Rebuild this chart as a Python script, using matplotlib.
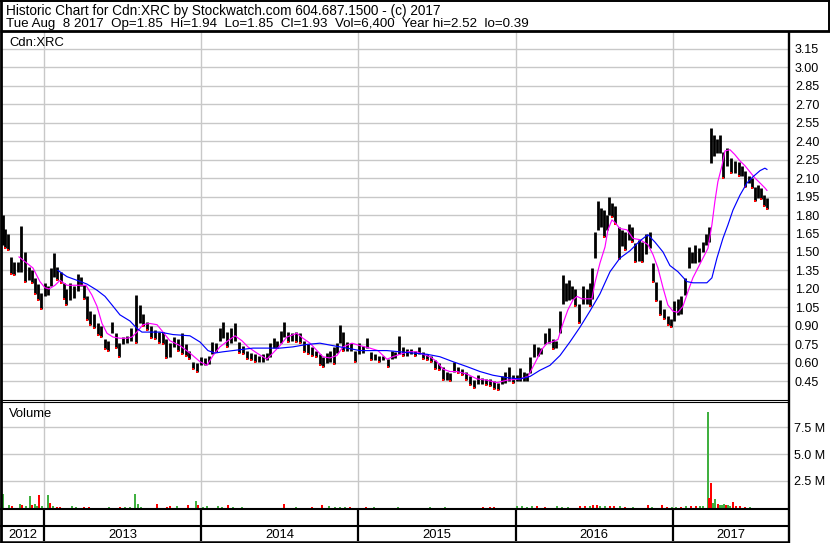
import matplotlib
matplotlib.use("Agg")
import matplotlib.pyplot as plt
from matplotlib.lines import Line2D

plt.rcParams['font.family'] = ['Liberation Sans', 'DejaVu Sans']

# daily-ish bars: decimal year, high, low
bar_t = [2012.739, 2012.752, 2012.771, 2012.790, 2012.809, 2012.834, 2012.854, 2012.879, 2012.904, 2012.924,
         2012.943, 2012.962, 2012.981, 2013.006, 2013.025, 2013.044, 2013.063, 2013.083, 2013.108, 2013.127,
         2013.140, 2013.165, 2013.191, 2013.216, 2013.235, 2013.254, 2013.273, 2013.292, 2013.318, 2013.343,
         2013.362, 2013.388, 2013.407, 2013.432, 2013.458, 2013.477, 2013.502, 2013.528, 2013.553, 2013.585,
         2013.610, 2013.629, 2013.655, 2013.680, 2013.706, 2013.731, 2013.757, 2013.776, 2013.801, 2013.827,
         2013.852, 2013.878, 2013.903, 2013.922, 2013.947, 2013.973, 2013.998, 2014.024, 2014.049, 2014.068,
         2014.094, 2014.119, 2014.138, 2014.164, 2014.189, 2014.215, 2014.240, 2014.265, 2014.291, 2014.316,
         2014.342, 2014.367, 2014.393, 2014.418, 2014.437, 2014.463, 2014.482, 2014.507, 2014.526, 2014.552,
         2014.577, 2014.603, 2014.628, 2014.653, 2014.679, 2014.704, 2014.730, 2014.755, 2014.774, 2014.800,
         2014.819, 2014.844, 2014.863, 2014.882, 2014.902, 2014.927, 2014.952, 2014.978, 2015.003, 2015.029,
         2015.054, 2015.080, 2015.105, 2015.130, 2015.156, 2015.188, 2015.213, 2015.232, 2015.258, 2015.283,
         2015.309, 2015.334, 2015.359, 2015.385, 2015.410, 2015.436, 2015.461, 2015.487, 2015.512, 2015.537,
         2015.563, 2015.582, 2015.607, 2015.633, 2015.658, 2015.684, 2015.709, 2015.735, 2015.760, 2015.786,
         2015.811, 2015.836, 2015.862, 2015.887, 2015.913, 2015.932, 2015.957, 2015.983, 2016.008, 2016.027,
         2016.053, 2016.072, 2016.091, 2016.116, 2016.142, 2016.161, 2016.186, 2016.212, 2016.237, 2016.256,
         2016.282, 2016.301, 2016.320, 2016.339, 2016.358, 2016.377, 2016.402, 2016.428, 2016.453, 2016.472,
         2016.485, 2016.504, 2016.523, 2016.542, 2016.561, 2016.581, 2016.593, 2016.612, 2016.631, 2016.657,
         2016.676, 2016.695, 2016.720, 2016.739, 2016.759, 2016.784, 2016.803, 2016.829, 2016.854, 2016.873,
         2016.892, 2016.918, 2016.943, 2016.968, 2016.987, 2017.007, 2017.032, 2017.051, 2017.077, 2017.102,
         2017.121, 2017.140, 2017.166, 2017.191, 2017.210, 2017.229, 2017.242, 2017.261, 2017.280, 2017.299,
         2017.318, 2017.344, 2017.369, 2017.394, 2017.420, 2017.439, 2017.458, 2017.484, 2017.503, 2017.522,
         2017.541, 2017.560, 2017.579, 2017.598]
bar_hi = [1.80, 1.69, 1.65, 1.46, 1.42, 1.42, 1.71, 1.50, 1.38, 1.35,
          1.29, 1.24, 1.17, 1.25, 1.22, 1.37, 1.49, 1.38, 1.34, 1.25,
          1.20, 1.25, 1.22, 1.32, 1.30, 1.23, 1.14, 1.02, 1.00, 0.92,
          0.90, 0.79, 0.78, 0.93, 0.84, 0.76, 0.81, 0.82, 0.88, 1.15,
          1.07, 1.00, 0.93, 0.90, 0.87, 0.85, 0.85, 0.79, 0.76, 0.81,
          0.79, 0.84, 0.75, 0.70, 0.61, 0.60, 0.65, 0.64, 0.66, 0.77,
          0.76, 0.88, 0.93, 0.85, 0.88, 0.92, 0.77, 0.74, 0.70, 0.68,
          0.67, 0.66, 0.67, 0.68, 0.76, 0.80, 0.78, 0.86, 0.93, 0.85,
          0.84, 0.85, 0.84, 0.78, 0.75, 0.73, 0.70, 0.67, 0.65, 0.68,
          0.70, 0.73, 0.76, 0.91, 0.85, 0.77, 0.76, 0.70, 0.76, 0.74,
          0.80, 0.69, 0.67, 0.66, 0.66, 0.63, 0.70, 0.69, 0.82, 0.73,
          0.71, 0.71, 0.70, 0.73, 0.69, 0.67, 0.66, 0.62, 0.60, 0.57,
          0.53, 0.52, 0.61, 0.57, 0.55, 0.53, 0.49, 0.46, 0.50, 0.48,
          0.47, 0.47, 0.45, 0.44, 0.49, 0.53, 0.57, 0.50, 0.50, 0.56,
          0.53, 0.52, 0.65, 0.75, 0.73, 0.72, 0.84, 0.88, 0.79, 0.78,
          1.02, 1.31, 1.25, 1.27, 1.22, 1.20, 1.08, 1.22, 1.20, 1.25,
          1.37, 1.66, 1.91, 1.86, 1.84, 1.80, 1.95, 1.90, 1.87, 1.70,
          1.68, 1.66, 1.73, 1.70, 1.57, 1.60, 1.58, 1.65, 1.66, 1.41,
          1.26, 1.11, 1.04, 0.98, 0.96, 1.10, 1.12, 1.14, 1.29, 1.54,
          1.50, 1.56, 1.53, 1.58, 1.65, 1.70, 2.51, 2.45, 2.42, 2.45,
          2.31, 2.34, 2.26, 2.24, 2.23, 2.20, 2.16, 2.12, 2.10, 2.03,
          2.04, 2.02, 1.96, 1.94]
bar_lo = [1.56, 1.53, 1.52, 1.32, 1.31, 1.34, 1.34, 1.26, 1.27, 1.25,
          1.16, 1.11, 1.04, 1.14, 1.15, 1.22, 1.30, 1.27, 1.25, 1.12,
          1.07, 1.11, 1.13, 1.18, 1.22, 1.12, 0.95, 0.91, 0.88, 0.83,
          0.81, 0.71, 0.70, 0.84, 0.72, 0.65, 0.75, 0.76, 0.78, 0.76,
          0.92, 0.90, 0.87, 0.80, 0.79, 0.76, 0.75, 0.64, 0.65, 0.73,
          0.70, 0.67, 0.66, 0.63, 0.55, 0.53, 0.58, 0.58, 0.59, 0.67,
          0.69, 0.78, 0.80, 0.73, 0.76, 0.78, 0.68, 0.67, 0.63, 0.62,
          0.61, 0.61, 0.61, 0.62, 0.65, 0.72, 0.72, 0.76, 0.81, 0.77,
          0.78, 0.77, 0.76, 0.69, 0.67, 0.66, 0.65, 0.58, 0.57, 0.60,
          0.61, 0.59, 0.68, 0.76, 0.70, 0.70, 0.70, 0.61, 0.67, 0.68,
          0.72, 0.62, 0.62, 0.61, 0.62, 0.57, 0.63, 0.64, 0.67, 0.66,
          0.66, 0.67, 0.66, 0.67, 0.63, 0.62, 0.61, 0.55, 0.54, 0.46,
          0.46, 0.45, 0.53, 0.52, 0.50, 0.46, 0.42, 0.40, 0.43, 0.43,
          0.42, 0.41, 0.39, 0.38, 0.43, 0.44, 0.45, 0.44, 0.45, 0.45,
          0.45, 0.45, 0.52, 0.65, 0.66, 0.67, 0.75, 0.76, 0.71, 0.72,
          0.84, 1.08, 1.10, 1.11, 1.12, 1.06, 0.92, 1.08, 1.08, 1.06,
          1.12, 1.45, 1.68, 1.70, 1.62, 1.68, 1.80, 1.78, 1.73, 1.44,
          1.55, 1.52, 1.60, 1.58, 1.42, 1.43, 1.42, 1.48, 1.53, 1.26,
          1.10, 0.99, 0.96, 0.91, 0.89, 0.94, 0.99, 1.00, 1.15, 1.37,
          1.41, 1.41, 1.42, 1.50, 1.56, 1.58, 2.22, 2.28, 2.30, 2.30,
          2.10, 2.20, 2.14, 2.14, 2.12, 2.12, 2.03, 2.06, 2.02, 1.91,
          1.94, 1.93, 1.87, 1.85]

# short moving average (magenta)
ma1_t = [2012.841, 2012.930, 2012.974, 2013.006, 2013.032, 2013.070, 2013.102, 2013.146, 2013.229, 2013.267,
         2013.305, 2013.337, 2013.369, 2013.401, 2013.439, 2013.483, 2013.528, 2013.560, 2013.591, 2013.629,
         2013.674, 2013.719, 2013.757, 2013.801, 2013.865, 2013.928, 2013.992, 2014.037, 2014.075, 2014.119,
         2014.170, 2014.215, 2014.259, 2014.297, 2014.354, 2014.418, 2014.456, 2014.501, 2014.545, 2014.609,
         2014.647, 2014.692, 2014.736, 2014.774, 2014.819, 2014.863, 2014.902, 2014.959, 2015.010, 2015.073,
         2015.124, 2015.181, 2015.219, 2015.264, 2015.315, 2015.372, 2015.410, 2015.455, 2015.499, 2015.537,
         2015.582, 2015.627, 2015.690, 2015.754, 2015.817, 2015.881, 2015.945, 2016.027, 2016.078, 2016.123,
         2016.167, 2016.199, 2016.231, 2016.269, 2016.301, 2016.332, 2016.364, 2016.390, 2016.422, 2016.485,
         2016.504, 2016.536, 2016.568, 2016.587, 2016.612, 2016.631, 2016.663, 2016.708, 2016.746, 2016.790,
         2016.841, 2016.873, 2016.905, 2016.937, 2016.968, 2017.000, 2017.032, 2017.064, 2017.096, 2017.127,
         2017.159, 2017.191, 2017.223, 2017.248, 2017.267, 2017.286, 2017.312, 2017.331, 2017.363, 2017.394,
         2017.426, 2017.458, 2017.490, 2017.522, 2017.554, 2017.585, 2017.598]
ma1_v = [1.46, 1.37, 1.26, 1.21, 1.20, 1.23, 1.27, 1.23, 1.23, 1.23,
         1.15, 1.06, 0.92, 0.84, 0.81, 0.80, 0.80, 0.81, 0.85, 0.91,
         0.92, 0.91, 0.85, 0.78, 0.74, 0.68, 0.61, 0.58, 0.66, 0.73,
         0.78, 0.82, 0.78, 0.73, 0.68, 0.63, 0.68, 0.74, 0.81, 0.84,
         0.80, 0.76, 0.70, 0.65, 0.64, 0.66, 0.73, 0.76, 0.74, 0.72,
         0.70, 0.63, 0.65, 0.67, 0.69, 0.69, 0.67, 0.65, 0.61, 0.55,
         0.53, 0.53, 0.51, 0.47, 0.46, 0.44, 0.46, 0.47, 0.49, 0.60,
         0.71, 0.76, 0.77, 0.79, 0.92, 1.03, 1.11, 1.14, 1.12, 1.12,
         1.25, 1.41, 1.54, 1.68, 1.76, 1.74, 1.69, 1.68, 1.61, 1.60,
         1.56, 1.48, 1.37, 1.21, 1.07, 1.02, 1.01, 1.06, 1.18, 1.29,
         1.37, 1.45, 1.53, 1.72, 1.91, 2.07, 2.20, 2.32, 2.33, 2.29,
         2.24, 2.20, 2.15, 2.10, 2.06, 2.02, 2.00]

# long moving average (blue)
ma2_t = [2013.089, 2013.146, 2013.210, 2013.273, 2013.337, 2013.388, 2013.439, 2013.483, 2013.547, 2013.591,
         2013.623, 2013.674, 2013.738, 2013.820, 2013.928, 2013.992, 2014.043, 2014.087, 2014.138, 2014.202,
         2014.265, 2014.329, 2014.418, 2014.501, 2014.583, 2014.673, 2014.755, 2014.838, 2014.927, 2015.010,
         2015.092, 2015.181, 2015.264, 2015.347, 2015.436, 2015.518, 2015.601, 2015.690, 2015.773, 2015.855,
         2015.945, 2016.027, 2016.091, 2016.154, 2016.218, 2016.282, 2016.345, 2016.409, 2016.472, 2016.536,
         2016.600, 2016.663, 2016.727, 2016.790, 2016.841, 2016.886, 2016.937, 2016.981, 2017.032, 2017.089,
         2017.127, 2017.216, 2017.248, 2017.280, 2017.318, 2017.350, 2017.382, 2017.426, 2017.471, 2017.509,
         2017.554, 2017.585, 2017.598]
ma2_v = [1.35, 1.30, 1.27, 1.24, 1.19, 1.14, 1.06, 0.99, 0.94, 0.88,
         0.85, 0.85, 0.85, 0.83, 0.82, 0.77, 0.70, 0.68, 0.69, 0.70,
         0.71, 0.72, 0.72, 0.72, 0.73, 0.75, 0.76, 0.74, 0.72, 0.70,
         0.70, 0.70, 0.69, 0.68, 0.67, 0.65, 0.61, 0.57, 0.53, 0.50,
         0.48, 0.47, 0.49, 0.54, 0.58, 0.66, 0.77, 0.89, 1.02, 1.16,
         1.34, 1.45, 1.51, 1.59, 1.64, 1.58, 1.50, 1.39, 1.34, 1.26,
         1.25, 1.25, 1.29, 1.45, 1.61, 1.72, 1.84, 1.96, 2.06, 2.11,
         2.16, 2.18, 2.17]

# volume (shares, millions) and direction of the day (g = up, r = down)
vol_t = [2012.739, 2012.777, 2012.796, 2012.847, 2012.860, 2012.885, 2012.911, 2012.924, 2012.943, 2012.955,
         2012.968, 2012.987, 2013.025, 2013.038, 2013.057, 2013.083, 2013.102, 2013.178, 2013.203, 2013.254,
         2013.286, 2013.413, 2013.483, 2013.515, 2013.547, 2013.579, 2013.598, 2013.617, 2013.719, 2013.782,
         2013.801, 2013.846, 2013.916, 2013.967, 2013.979, 2014.011, 2014.037, 2014.106, 2014.132, 2014.170,
         2014.202, 2014.259, 2014.526, 2014.603, 2014.704, 2014.768, 2014.812, 2014.851, 2014.882, 2014.914,
         2014.946, 2015.048, 2015.099, 2015.251, 2015.455, 2015.550, 2015.792, 2015.836, 2015.862, 2016.008,
         2016.040, 2016.072, 2016.104, 2016.135, 2016.186, 2016.263, 2016.294, 2016.332, 2016.409, 2016.441,
         2016.472, 2016.491, 2016.517, 2016.536, 2016.568, 2016.600, 2016.625, 2016.663, 2016.695, 2016.746,
         2016.841, 2016.867, 2016.930, 2016.962, 2016.994, 2017.019, 2017.051, 2017.083, 2017.115, 2017.147,
         2017.172, 2017.191, 2017.223, 2017.229, 2017.242, 2017.255, 2017.267, 2017.286, 2017.299, 2017.312,
         2017.325, 2017.337, 2017.350, 2017.363, 2017.382, 2017.401, 2017.426, 2017.458, 2017.490]
vol_m = [1.27, 0.20, 0.15, 0.30, 0.25, 0.15, 1.08, 0.25, 0.35, 0.15,
         1.17, 0.15, 1.17, 0.40, 0.15, 0.08, 0.08, 0.12, 0.08, 0.08,
         0.08, 0.05, 0.06, 0.06, 0.06, 1.27, 0.35, 0.08, 0.30, 0.08,
         0.12, 0.10, 0.20, 0.62, 0.25, 0.06, 0.12, 0.12, 0.08, 0.20,
         0.06, 0.06, 0.30, 0.05, 0.08, 0.20, 0.12, 0.08, 0.08, 0.08,
         0.08, 0.08, 0.06, 0.06, 0.08, 0.05, 0.08, 0.08, 0.06, 0.10,
         0.10, 0.08, 0.10, 0.10, 0.06, 0.15, 0.08, 0.06, 0.10, 0.10,
         0.15, 0.25, 0.25, 0.12, 0.10, 0.10, 0.12, 0.10, 0.08, 0.06,
         0.20, 0.08, 0.25, 0.08, 0.06, 0.08, 0.08, 0.10, 0.10, 0.15,
         0.10, 0.15, 8.90, 0.86, 2.27, 0.40, 0.77, 0.30, 0.20, 0.25,
         0.35, 0.20, 0.25, 0.15, 0.50, 0.15, 0.12, 0.08, 0.06]
vol_dir = ["g", "g", "r", "g", "r", "g", "g", "r", "g", "g",
           "r", "g", "g", "r", "g", "r", "r", "g", "g", "r",
           "r", "g", "r", "g", "g", "g", "g", "g", "r", "r",
           "r", "g", "r", "g", "r", "g", "g", "g", "g", "r",
           "g", "g", "r", "g", "r", "r", "g", "g", "g", "g",
           "r", "r", "g", "g", "g", "g", "r", "r", "r", "g",
           "g", "g", "g", "r", "r", "g", "g", "g", "r", "r",
           "g", "r", "r", "g", "g", "r", "r", "g", "r", "g",
           "r", "g", "r", "r", "g", "g", "r", "g", "r", "r",
           "g", "g", "g", "r", "r", "g", "g", "r", "g", "g",
           "g", "r", "g", "g", "r", "r", "r", "r", "g"]

price_ticks = [0.45, 0.60, 0.75, 0.90, 1.05, 1.20, 1.35, 1.50, 1.65, 1.80,
               1.95, 2.10, 2.25, 2.40, 2.55, 2.70, 2.85, 3.00, 3.15]
vol_ticks = [2.5, 5.0, 7.5]
vol_labels = ["2.5 M", "5.0 M", "7.5 M"]
years = [2012, 2013, 2014, 2015, 2016, 2017]

title1 = "Historic Chart for Cdn:XRC by Stockwatch.com 604.687.1500 - (c) 2017"
title2 = "Tue Aug  8 2017  Op=1.85  Hi=1.94  Lo=1.85  Cl=1.93  Vol=6,400  Year hi=2.52  lo=0.39"

W, H = 830, 543
XMIN, XMAX = 2012.733, 2017.732
GRID = '#c8c8c8'
FS = 9


def box(x0, y0, x1, y1):
    # pixel rectangle (top-left origin) -> figure rect
    return [x0 / W, 1 - y1 / H, (x1 - x0) / W, (y1 - y0) / H]


def hline(y, x0, x1, lw):
    fig.add_artist(Line2D([x0 / W, x1 / W], [1 - y / H, 1 - y / H], color='black', lw=lw,
                          transform=fig.transFigure, solid_capstyle='butt'))


def vline(x, y0, y1, lw):
    fig.add_artist(Line2D([x / W, x / W], [1 - y0 / H, 1 - y1 / H], color='black', lw=lw,
                          transform=fig.transFigure, solid_capstyle='butt'))


fig = plt.figure(figsize=(W / 100, H / 100), dpi=100, facecolor='white')

# price panel
ax = fig.add_axes(box(2, 32, 788, 400))
ax.set_xlim(XMIN, XMAX)
ax.set_ylim(0.299, 3.285)
for y in years[1:]:
    ax.axvline(y, color=GRID, lw=1.0, zorder=0)
for p in price_ticks:
    ax.axhline(p, color=GRID, lw=1.0, zorder=0)
ax.vlines(bar_t, bar_lo, bar_hi, color='black', lw=2.0, zorder=2)
down_t = [bar_t[i] for i in range(1, len(bar_t)) if bar_lo[i] < bar_lo[i - 1]]
down_v = [bar_lo[i] for i in range(1, len(bar_t)) if bar_lo[i] < bar_lo[i - 1]]
ax.plot(down_t, down_v, 's', color='red', ms=1.8, mew=0, zorder=3)
ax.plot(ma1_t, ma1_v, color='#ff00ff', lw=0.85, zorder=4)
ax.plot(ma2_t, ma2_v, color='#0000ff', lw=0.85, zorder=4)
ax.yaxis.tick_right()
ax.set_yticks(price_ticks)
ax.set_yticklabels(["%.2f" % p for p in price_ticks])
ax.set_xticks([])
ax.tick_params(axis='y', length=0, pad=5, labelsize=FS)
for s in ax.spines.values():
    s.set_visible(False)
ax.text(0.009, 0.971, "Cdn:XRC", transform=ax.transAxes, fontsize=9.4, va='center', ha='left')

# volume panel
axv = fig.add_axes(box(2, 403, 788, 508.5))
axv.set_xlim(XMIN, XMAX)
axv.set_ylim(-0.1, 9.78)
for y in years[1:]:
    axv.axvline(y, color=GRID, lw=1.0, zorder=0)
for v in vol_ticks:
    axv.axhline(v, color=GRID, lw=1.0, zorder=0)
vol_col = ['#40b040' if c == 'g' else '#ff0000' for c in vol_dir]
axv.bar(vol_t, [v + 0.1 for v in vol_m], bottom=-0.1, width=0.011, color=vol_col, zorder=2)
axv.yaxis.tick_right()
axv.set_yticks(vol_ticks)
axv.set_yticklabels(vol_labels)
axv.set_xticks([])
axv.tick_params(axis='y', length=0, pad=4, labelsize=FS)
for s in axv.spines.values():
    s.set_visible(False)
axv.text(0.009, 0.9, "Volume", transform=axv.transAxes, fontsize=9.4, va='center', ha='left')

# year strip
axy = fig.add_axes(box(2, 510, 788, 541))
axy.set_xlim(XMIN, XMAX)
axy.set_ylim(0, 1)
axy.axis('off')
for y in years[1:]:
    axy.axvline(y, color='black', lw=1.6)
for y in years:
    lo, hi = max(y, XMIN), min(y + 1, XMAX)
    axy.text((lo + hi) / 2, 0.2, str(y), ha='center', va='center', fontsize=9.4)

# header
fig.text(6 / W, 1 - 10.5 / H, title1, fontsize=9.85, va='center', ha='left')
fig.text(6 / W, 1 - 23.5 / H, title2, fontsize=9.65, va='center', ha='left')

# frame lines
hline(0.8, 0, 830, 1.4)
vline(829.2, 0, 31, 1.4)
hline(30.8, 0, 830, 2.0)
vline(1.0, 0, 543, 2.0)
vline(788.9, 31, 543, 1.7)
hline(400.0, 0, 789, 0.8)
hline(402.3, 0, 789, 0.8)
hline(509.3, 0, 789, 1.5)
hline(526.2, 0, 789, 1.5)
hline(541.6, 0, 789, 1.8)

fig.savefig("out.png", dpi=100, facecolor='white')
